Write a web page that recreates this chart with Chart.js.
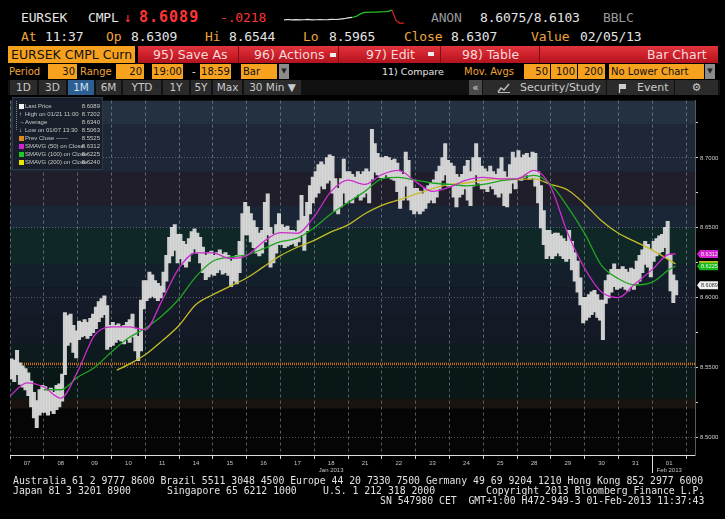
<!DOCTYPE html>
<html><head><meta charset="utf-8">
<script src="https://cdn.jsdelivr.net/npm/chart.js@4"></script>
<style>
html,body{margin:0;padding:0;background:#000;width:725px;height:519px;overflow:hidden;}
#root{position:relative;width:725px;height:519px;background:#000;font-family:'DejaVu Sans',sans-serif;}
.t{position:absolute;white-space:pre;line-height:1;}
.m{font-family:'DejaVu Sans Mono',monospace;font-size:13px;letter-spacing:-0.15px;}
.w{color:#e4e4e4}.o{color:#eea43a}.g{color:#9a9a9a}.r{color:#ff3434}
.box{position:absolute;white-space:pre;box-sizing:border-box;overflow:hidden;}
.ob{background:#f7a21e;color:#111;}
.redbar{position:absolute;left:138px;top:46px;width:580px;height:17px;background:linear-gradient(to bottom,#e0343d 0%,#cc1f2a 55%,#b0141e 100%);}
.sec{position:absolute;top:0;height:17px;line-height:17px;font-size:12.5px;color:#f6dada;white-space:pre;}
.sep{position:absolute;top:0;width:1px;height:17px;background:#7e0d14;}
.dd{display:inline-block;width:6px;height:4px;background:#eee;vertical-align:middle;margin-left:6px;position:relative;top:-1px}
.r4{top:64px;height:15px;line-height:15px;font-size:10px;}
.tab{position:absolute;top:80px;height:15px;line-height:15px;font-size:10.5px;color:#c9c9c9;background:#2b2b2b;text-align:center;white-space:pre;}
#legend{position:absolute;left:12px;top:97px;width:91px;height:73px;background:rgba(24,31,43,0.94);border:1px solid #2e3a4a;box-sizing:border-box;font-family:'Liberation Sans',sans-serif;font-size:6px;color:#c8c8c8;}
.lr{position:absolute;left:0;width:89px;height:8px;line-height:8px;}
.lr .ic{position:absolute;left:6px;top:1.5px;width:5px;height:5px;}
.lr .lb{position:absolute;left:12px;white-space:pre;}
.lr .vl{position:absolute;right:2px;}
.foot{position:absolute;font-family:'DejaVu Sans Mono',monospace;font-size:9.8px;line-height:10px;color:#e2e2e2;white-space:pre;}
</style></head>
<body><div id="root">
<!-- row 1 -->
<span class="t m w" style="left:21px;top:10.8px">EURSEK</span>
<span class="t m w" style="left:88px;top:10.8px">CMPL</span>
<span class="t m r" style="left:124px;top:10.8px">↓</span>
<span class="t r" style="left:139px;top:10px;font-family:'DejaVu Sans Mono',monospace;font-weight:bold;font-size:15px;letter-spacing:1px">8.6089</span>
<span class="t m r" style="left:220px;top:10.8px">-.0218</span>
<div style="position:absolute;left:283px;top:8px;width:122px;height:18px"><canvas id="spark" width="122" height="18"></canvas></div>
<span class="t m g" style="left:431px;top:10.8px">ANON</span>
<span class="t m w" style="left:480px;top:10.8px">8.6075/8.6103</span>
<span class="t m g" style="left:603px;top:10.8px">BBLC</span>
<!-- row 2 -->
<span class="t m o" style="left:21px;top:30.2px">At</span>
<span class="t m w" style="left:45px;top:30.2px">11:37</span>
<span class="t m o" style="left:106px;top:30.2px">Op</span>
<span class="t m w" style="left:131px;top:30.2px">8.6309</span>
<span class="t m o" style="left:205px;top:30.2px">Hi</span>
<span class="t m w" style="left:229px;top:30.2px">8.6544</span>
<span class="t m o" style="left:303px;top:30.2px">Lo</span>
<span class="t m w" style="left:329px;top:30.2px">8.5965</span>
<span class="t m o" style="left:404px;top:30.2px">Close</span>
<span class="t m w" style="left:451px;top:30.2px">8.6307</span>
<span class="t m o" style="left:531px;top:30.2px">Value</span>
<span class="t m w" style="left:580px;top:30.2px">02/05/13</span>
<!-- row 3 -->
<div class="box ob" style="left:8px;top:46px;width:127px;height:17px;line-height:17px;font-size:12.5px;padding-left:3px">EURSEK CMPL Curn</div>
<div class="redbar">
  <span class="sec" style="left:15px">95) Save As</span>
  <div class="sep" style="left:100px"></div>
  <span class="sec" style="left:116px">96) Actions<span class="dd"></span></span>
  <div class="sep" style="left:200px"></div>
  <span class="sec" style="left:228px">97) Edit</span><span class="dd" style="position:absolute;left:290px;top:6px;margin:0"></span>
  <div class="sep" style="left:302px"></div>
  <span class="sec" style="left:324px">98) Table</span>
  <div class="sep" style="left:401px"></div>
  <span class="sec" style="left:509px">Bar Chart</span>
</div>
<!-- row 4 -->
<span class="box r4 o" style="left:9px">Period</span>
<span class="box r4 ob" style="left:48px;width:29px;text-align:right;padding-right:2px">30</span>
<span class="box r4 o" style="left:80px">Range</span>
<span class="box r4 ob" style="left:116px;width:28px;text-align:right;padding-right:2px">20</span>
<span class="box r4 ob" style="left:152px;width:31px;text-align:center">19:00</span>
<span class="box r4 w" style="left:192px">-</span>
<span class="box r4 ob" style="left:200px;width:31px;text-align:center">18:59</span>
<span class="box r4 ob" style="left:241px;width:36px;padding-left:2px">Bar</span>
<span class="box r4" style="left:279px;width:10px;background:#8c8c8c;color:#222;text-align:center;font-size:7px">▼</span>
<span class="box r4 w" style="left:382px;font-size:9.5px">11) Compare</span>
<span class="box r4 o" style="left:464px">Mov. Avgs</span>
<span class="box r4 ob" style="left:524px;width:26px;text-align:right;padding-right:2px">50</span>
<span class="box r4 ob" style="left:551px;width:26px;text-align:right;padding-right:2px">100</span>
<span class="box r4 ob" style="left:578px;width:27px;text-align:right;padding-right:2px">200</span>
<span class="box r4 ob" style="left:609px;width:95px;padding-left:2px">No Lower Chart</span>
<span class="box r4" style="left:705px;width:10px;background:#8c8c8c;color:#222;text-align:center;font-size:7px">▼</span>
<!-- row 5 -->
<div style="position:absolute;left:8px;top:80px;width:712px;height:15px;background:#111"></div>
<span class="tab" style="left:10px;width:27px">1D</span>
<span class="tab" style="left:39px;width:27px">3D</span>
<span class="tab" style="left:68px;width:26px;background:#2e5f92;color:#cfe2f6">1M</span>
<span class="tab" style="left:96px;width:25px">6M</span>
<span class="tab" style="left:123px;width:38px">YTD</span>
<span class="tab" style="left:163px;width:26px">1Y</span>
<span class="tab" style="left:191px;width:20px">5Y</span>
<span class="tab" style="left:213px;width:29px">Max</span>
<span class="tab" style="left:244px;width:57px">30 Min ▼</span>
<span class="tab" style="left:469px;width:13px;background:#4a4a4a;color:#ddd">«</span>
<span class="tab" style="left:483px;width:123px;text-align:left;padding-left:37px;box-sizing:border-box;font-size:11px">Security/Study</span>
<svg style="position:absolute;left:497px;top:83px" width="14" height="10"><polyline points="1,9 4,5 7,7 12,1" fill="none" stroke="#bbb" stroke-width="1.5"/><line x1="1" y1="9.5" x2="13" y2="9.5" stroke="#bbb" stroke-width="1"/></svg>
<span class="tab" style="left:607px;width:67px;text-align:left;padding-left:30px;box-sizing:border-box;font-size:11px">Event</span>
<svg style="position:absolute;left:618px;top:83px" width="10" height="10"><rect x="1" y="1" width="7" height="5" fill="#ccc"/><line x1="1.5" y1="1" x2="1.5" y2="10" stroke="#ccc" stroke-width="1.3"/></svg>
<span class="tab" style="left:675px;width:43px;font-size:11px">⚙</span>

<!-- chart -->
<div style="position:absolute;left:0;top:95px;width:725px;height:383px"><canvas id="c" width="725" height="383"></canvas></div>

<!-- legend -->
<div id="legend">
  <div style="position:absolute;left:3px;top:3px;width:0;height:29px;border-left:1px dotted #888"></div>
  <div class="lr" style="top:4px"><span class="ic" style="background:#f4f4f4"></span><span class="lb">Last Price</span><span class="vl">8.6089</span></div>
  <div class="lr" style="top:12px"><span class="ic" style="font-size:6px;line-height:5px;color:#ddd">↑</span><span class="lb">High on 01/21 11:00</span><span class="vl">8.7202</span></div>
  <div class="lr" style="top:20px"><span class="ic" style="font-size:6px;line-height:5px;color:#ddd">→</span><span class="lb">Average</span><span class="vl">8.6340</span></div>
  <div class="lr" style="top:28px"><span class="ic" style="font-size:6px;line-height:5px;color:#ddd">↓</span><span class="lb">Low on 01/07 13:30</span><span class="vl">8.5063</span></div>
  <div class="lr" style="top:36px"><span class="ic" style="background:#e0891c"></span><span class="lb">Prev Close ------</span><span class="vl">8.5525</span></div>
  <div class="lr" style="top:44px"><span class="ic" style="background:#d222d2"></span><span class="lb">SMAVG (50) on Close</span><span class="vl">8.6312</span></div>
  <div class="lr" style="top:52px"><span class="ic" style="background:#1ec81e"></span><span class="lb">SMAVG (100) on Close</span><span class="vl">8.6225</span></div>
  <div class="lr" style="top:60px"><span class="ic" style="background:#e6e600"></span><span class="lb">SMAVG (200) on Close</span><span class="vl">8.6240</span></div>
</div>

<!-- footer -->
<span class="foot" style="left:13px;top:476px">Australia 61 2 9777 8600 Brazil 5511 3048 4500 Europe 44 20 7330 7500 Germany 49 69 9204 1210 Hong Kong 852 2977 6000</span>
<span class="foot" style="left:13px;top:486px">Japan 81 3 3201 8900</span>
<span class="foot" style="left:167px;top:486px">Singapore 65 6212 1000</span>
<span class="foot" style="left:323px;top:486px">U.S. 1 212 318 2000</span>
<span class="foot" style="left:486px;top:486px">Copyright 2013 Bloomberg Finance L.P.</span>
<span class="foot" style="left:380px;top:495.5px">SN 547980 CET  GMT+1:00 H472-949-3 01-Feb-2013 11:37:43</span>
</div>

<script>
// ---------------- data ----------------
const dayLabels = ['07','08','09','10','11','14','15','16','17','18','21','22','23','24','25','28','29','30','31','01'];
const monthLabels = ['','','','','','','','','','Jan 2013','','','','','','','','','','Feb 2013'];
const monthStartIndex = 19;
const slotsPerDay = 12; // 2-hour bars, session 19:00-18:59

const priceLow = [
 [8.542,8.540,8.545,8.538,8.536,8.534,8.530,8.522,8.514,8.507,8.516,8.518],
 [8.518,8.516,8.519,8.517,8.520,8.522,8.526,8.545,8.566,8.568,8.561,8.557],
 [8.570,8.572,8.573,8.571,8.573,8.575,8.578,8.583,8.586,8.588,8.563,8.565],
 [8.566,8.568,8.570,8.569,8.567,8.570,8.568,8.572,8.562,8.555,8.562,8.592],
 [8.598,8.600,8.601,8.600,8.598,8.600,8.604,8.612,8.625,8.630,8.634,8.625],
 [8.628,8.624,8.622,8.626,8.632,8.635,8.632,8.625,8.618,8.613,8.615,8.617],
 [8.616,8.618,8.620,8.617,8.618,8.616,8.608,8.612,8.610,8.618,8.630,8.645],
 [8.645,8.640,8.636,8.632,8.630,8.632,8.640,8.645,8.622,8.625,8.632,8.638],
 [8.638,8.636,8.637,8.638,8.639,8.637,8.640,8.645,8.634,8.648,8.660,8.668],
 [8.672,8.675,8.680,8.678,8.682,8.684,8.675,8.662,8.660,8.665,8.675,8.668],
 [8.670,8.668,8.672,8.674,8.670,8.672,8.675,8.668,8.685,8.690,8.688,8.686],
 [8.686,8.688,8.686,8.685,8.684,8.676,8.664,8.670,8.680,8.670,8.663,8.660],
 [8.662,8.660,8.662,8.664,8.668,8.670,8.668,8.672,8.678,8.684,8.688,8.680],
 [8.680,8.672,8.665,8.672,8.674,8.678,8.670,8.666,8.680,8.688,8.682,8.678],
 [8.678,8.676,8.680,8.678,8.674,8.672,8.675,8.666,8.665,8.675,8.682,8.678],
 [8.685,8.684,8.686,8.688,8.685,8.686,8.680,8.668,8.650,8.638,8.628,8.630],
 [8.628,8.630,8.632,8.630,8.628,8.626,8.628,8.620,8.612,8.604,8.595,8.582],
 [8.584,8.586,8.588,8.590,8.586,8.584,8.570,8.596,8.600,8.604,8.608,8.606],
 [8.607,8.608,8.606,8.605,8.608,8.606,8.610,8.612,8.618,8.624,8.622,8.615],
 [8.626,8.630,8.632,8.633,8.636,8.628,8.605,8.5965,8.602]
];
const priceHigh = [
 [8.556,8.555,8.562,8.553,8.551,8.549,8.546,8.540,8.532,8.526,8.534,8.537],
 [8.536,8.533,8.535,8.532,8.537,8.538,8.545,8.589,8.587,8.588,8.580,8.576],
 [8.583,8.582,8.584,8.582,8.585,8.588,8.593,8.597,8.599,8.601,8.594,8.580],
 [8.582,8.580,8.581,8.579,8.580,8.582,8.584,8.588,8.578,8.572,8.598,8.612],
 [8.612,8.618,8.616,8.612,8.610,8.608,8.618,8.630,8.643,8.650,8.652,8.645],
 [8.645,8.640,8.638,8.642,8.647,8.649,8.646,8.643,8.636,8.630,8.632,8.633],
 [8.630,8.632,8.634,8.631,8.632,8.630,8.626,8.628,8.630,8.640,8.660,8.668],
 [8.665,8.660,8.655,8.650,8.646,8.648,8.668,8.674,8.650,8.645,8.652,8.660],
 [8.652,8.650,8.651,8.648,8.648,8.647,8.655,8.673,8.658,8.668,8.680,8.686],
 [8.690,8.695,8.697,8.695,8.700,8.702,8.701,8.685,8.678,8.685,8.699,8.690],
 [8.690,8.688,8.686,8.690,8.688,8.690,8.692,8.690,8.7202,8.710,8.703,8.700],
 [8.700,8.701,8.700,8.698,8.699,8.696,8.690,8.688,8.704,8.698,8.684,8.678],
 [8.678,8.676,8.674,8.678,8.680,8.682,8.684,8.690,8.694,8.700,8.710,8.698],
 [8.696,8.694,8.688,8.686,8.688,8.694,8.698,8.690,8.700,8.710,8.700,8.694],
 [8.692,8.690,8.694,8.690,8.688,8.692,8.700,8.690,8.686,8.695,8.704,8.700],
 [8.705,8.700,8.702,8.703,8.700,8.704,8.703,8.690,8.680,8.662,8.648,8.648],
 [8.645,8.646,8.646,8.644,8.642,8.640,8.648,8.640,8.632,8.626,8.614,8.600],
 [8.600,8.602,8.604,8.605,8.602,8.598,8.598,8.612,8.616,8.620,8.624,8.620],
 [8.620,8.622,8.620,8.618,8.621,8.620,8.626,8.630,8.634,8.640,8.638,8.634],
 [8.640,8.642,8.644,8.645,8.650,8.6544,8.630,8.616,8.612]
];

const sma50Days = [0,0.5,1,1.5,2,2.5,3,3.5,4,4.5,5,5.5,6,6.5,7,7.5,8,8.5,9,9.5,10,10.5,11,11.5,12,12.5,13,13.5,14,14.5,15,15.5,16,16.5,17,17.5,18,18.5,19,19.5,19.69];
const sma50 = [8.5295,8.539,8.536,8.528,8.547,8.573,8.579,8.579,8.577,8.598,8.621,8.632,8.632,8.628,8.630,8.640,8.6465,8.646,8.658,8.676,8.684,8.681,8.688,8.691,8.683,8.676,8.679,8.684,8.686,8.685,8.685,8.691,8.679,8.646,8.621,8.604,8.600,8.610,8.620,8.631,8.6312];
const sma100Days = [1,1.5,2,2.5,3,3.5,4,4.5,5,5.5,6,6.5,7,7.5,8,8.5,9,9.5,10,10.5,11,11.5,12,12.5,13,13.5,14,14.5,15,15.5,16,16.5,17,17.5,18,18.5,19,19.5,19.69];
const sma100 = [8.534,8.534,8.543,8.550,8.561,8.571,8.578,8.587,8.599,8.615,8.626,8.629,8.6305,8.635,8.640,8.6425,8.650,8.660,8.668,8.676,8.685,8.686,8.684,8.682,8.681,8.680,8.681,8.6835,8.685,8.6875,8.681,8.665,8.646,8.623,8.6135,8.609,8.611,8.620,8.6225];
const sma200Days = [3.16,3.5,4,4.5,5,5.5,6,6.5,7,7.5,8,8.5,9,9.5,10,10.5,11,11.5,12,12.5,13,13.5,14,14.5,15,15.5,16,16.5,17,17.5,18,18.5,19,19.5,19.69];
const sma200 = [8.548,8.552,8.559,8.569,8.580,8.595,8.602,8.608,8.614,8.622,8.630,8.636,8.641,8.647,8.652,8.660,8.666,8.670,8.674,8.678,8.681,8.682,8.684,8.685,8.6845,8.685,8.681,8.677,8.667,8.655,8.646,8.640,8.634,8.627,8.624];

const prevClose = 8.5525;
const lastPrice = 8.6089;
const yTickValues = [8.500,8.525,8.550,8.575,8.600,8.625,8.650,8.675,8.700,8.725];
const yLabelValues = [8.50,8.55,8.60,8.65,8.70];

const sparkValues = [6.5,6.8,6.5,6.7,6.4,6.6,6.9,6.5,6.6,6.8,6.6,6.7,6.9,6.8,7.2,7.5,8.2,8.6,9.5,11.5,13,13,13.2,13.2,13.5,13.6,14,15,6,3.5,3.8];
const sparkGreenFrom = 17, sparkRedFrom = 27;

// ---------------- chart ----------------
const X_MAX = 20.266, Y_MIN = 8.4873, Y_MAX = 8.741;

const barData = [];
priceLow.forEach((day, d) => day.forEach((lo, s) => {
  barData.push({x: d + (s + 0.5) / slotsPerDay, y: [lo, priceHigh[d][s]]});
}));
const pts = (xs, ys) => xs.map((x, i) => ({x: x, y: ys[i]}));
const isLabelTick = v => yLabelValues.some(l => Math.abs(l - v) < 1e-6);

const bands = [
  [8.741, 8.724, '#243140'], [8.724, 8.690, '#1d2737'], [8.690, 8.666, '#1f1e2a'],
  [8.666, 8.650, '#1a2535'], [8.650, 8.624, '#0f2827'], [8.624, 8.6075, '#13202b'],
  [8.6075, 8.588, '#161b2a'], [8.588, 8.567, '#141a25'], [8.567, 8.553, '#0e1b1e'],
  [8.553, 8.5275, '#0a1717'], [8.5275, 8.5205, '#18130e'], [8.5205, 8.4873, '#050505']
];

const decor = {
  id: 'decor',
  beforeDraw(chart) {
    const {ctx, chartArea: a, scales: {y}} = chart;
    ctx.save();
    bands.forEach(([hi, lo, c]) => {
      const y1 = y.getPixelForValue(hi), y2 = y.getPixelForValue(lo);
      ctx.fillStyle = c;
      ctx.fillRect(a.left, y1, a.right - a.left, y2 - y1 + 0.5);
    });
    ctx.restore();
  },
  afterDraw(chart) {
    const {ctx, chartArea: a, scales: {x, y}} = chart;
    ctx.save();
    const px = Math.round(x.getPixelForValue(monthStartIndex)) + 0.5;
    ctx.strokeStyle = '#dcdcdc'; ctx.lineWidth = 1;
    ctx.beginPath(); ctx.moveTo(px, a.bottom); ctx.lineTo(px, a.bottom + 18); ctx.stroke();
    const tags = [
      {v: sma50[sma50.length - 1], bg: '#d020d0', fg: '#f8e8f8'},
      {v: sma100[sma100.length - 1], bg: '#18b818', fg: '#e8ffe8', top: '#e0d820'},
      {v: lastPrice, bg: '#f2f2f2', fg: '#333'}
    ];
    tags.forEach(t => {
      const cy = y.getPixelForValue(t.v), x0 = a.right + 2, w = 21, h = 8;
      ctx.fillStyle = t.bg;
      ctx.beginPath();
      ctx.moveTo(x0, cy); ctx.lineTo(x0 + 3, cy - h / 2); ctx.lineTo(x0 + w, cy - h / 2);
      ctx.lineTo(x0 + w, cy + h / 2); ctx.lineTo(x0 + 3, cy + h / 2); ctx.closePath(); ctx.fill();
      if (t.top) { ctx.fillStyle = t.top; ctx.fillRect(x0 + 2, cy - h / 2 - 1, w - 2, 1.5); }
      ctx.fillStyle = t.fg; ctx.font = '5.5px "Liberation Sans"'; ctx.textBaseline = 'middle'; ctx.textAlign = 'left';
      ctx.fillText(t.v.toFixed(4), x0 + 4, cy + 0.5);
    });
    ctx.restore();
  }
};

new Chart(document.getElementById('c'), {
  type: 'bar',
  data: {
    datasets: [
      {type: 'line', label: 'Prev Close', data: [{x: 0, y: prevClose}, {x: X_MAX, y: prevClose}], borderColor: '#c86c14', borderWidth: 2.5, borderDash: [1, 1], pointRadius: 0, order: 5},
      {type: 'bar', label: 'Last Price', data: barData, backgroundColor: 'rgba(216,216,216,0.95)', borderWidth: 0, inflateAmount: 0.6, barPercentage: 1, categoryPercentage: 1, order: 4},
      {type: 'line', label: 'SMAVG (200) on Close', data: pts(sma200Days, sma200), borderColor: '#c4bc2a', borderWidth: 1.3, pointRadius: 0, cubicInterpolationMode: 'monotone', order: 3},
      {type: 'line', label: 'SMAVG (100) on Close', data: pts(sma100Days, sma100), borderColor: '#1fa51f', borderWidth: 1.3, pointRadius: 0, cubicInterpolationMode: 'monotone', order: 2},
      {type: 'line', label: 'SMAVG (50) on Close', data: pts(sma50Days, sma50), borderColor: '#cc2ccc', borderWidth: 1.3, pointRadius: 0, cubicInterpolationMode: 'monotone', order: 1}
    ]
  },
  options: {
    responsive: false, animation: false,
    layout: {padding: {left: 10, top: 1, right: 0, bottom: 0}},
    plugins: {legend: {display: false}, tooltip: {enabled: false}},
    scales: {
      x: {
        type: 'linear', min: 0, max: X_MAX, offset: false,
        afterBuildTicks: s => { s.ticks = dayLabels.map((_, i) => ({value: i})).concat([{value: dayLabels.length}]); },
        afterFit: s => { s.height = 23; },
        ticks: {
          autoSkip: false, maxRotation: 0, labelOffset: 17, padding: 1,
          color: '#c4c4c4', font: {size: 6, family: 'Liberation Sans'},
          callback: v => {
            const lab = dayLabels[v];
            if (lab === undefined) return '';
            return monthLabels[v] ? [lab, monthLabels[v]] : lab;
          }
        },
        grid: {offset: false, color: 'rgba(165,175,188,0.5)', lineWidth: 1, tickColor: '#d0d0d0', tickLength: 4},
        border: {display: true, color: '#dcdcdc', width: 1, dash: ctx => ctx.type === 'tick' ? [3, 3] : []}
      },
      y: {
        position: 'right', min: Y_MIN, max: Y_MAX, beginAtZero: false,
        afterBuildTicks: s => { s.ticks = yTickValues.map(v => ({value: v})); },
        afterFit: s => { s.width = 30; },
        ticks: {
          autoSkip: false, padding: 2, color: '#cfcfcf', font: {size: 6, family: 'Liberation Sans'},
          callback: v => isLabelTick(v) ? v.toFixed(4) : ''
        },
        grid: {
          color: ctx => (ctx.tick && isLabelTick(ctx.tick.value)) ? 'rgba(150,162,176,0.5)' : 'rgba(0,0,0,0)',
          tickColor: '#d0d0d0', tickLength: 3, lineWidth: 1
        },
        border: {display: true, color: '#5a5a5a', width: 1, dash: ctx => ctx.type === 'tick' ? [1, 2] : []}
      }
    }
  },
  plugins: [decor]
});

// sparkline in the header
new Chart(document.getElementById('spark'), {
  type: 'line',
  data: {
    labels: sparkValues.map((_, i) => i),
    datasets: [{
      data: sparkValues, borderWidth: 1.2, pointRadius: 0, borderColor: '#e0e0e0',
      segment: {borderColor: c => c.p0DataIndex >= sparkRedFrom ? '#e02020' : (c.p0DataIndex >= sparkGreenFrom ? '#22c022' : '#e0e0e0')}
    }]
  },
  options: {
    responsive: false, animation: false,
    layout: {padding: 1},
    plugins: {legend: {display: false}, tooltip: {enabled: false}},
    scales: {x: {display: false}, y: {display: false, min: 2, max: 16}}
  }
});
</script>
</body></html>
